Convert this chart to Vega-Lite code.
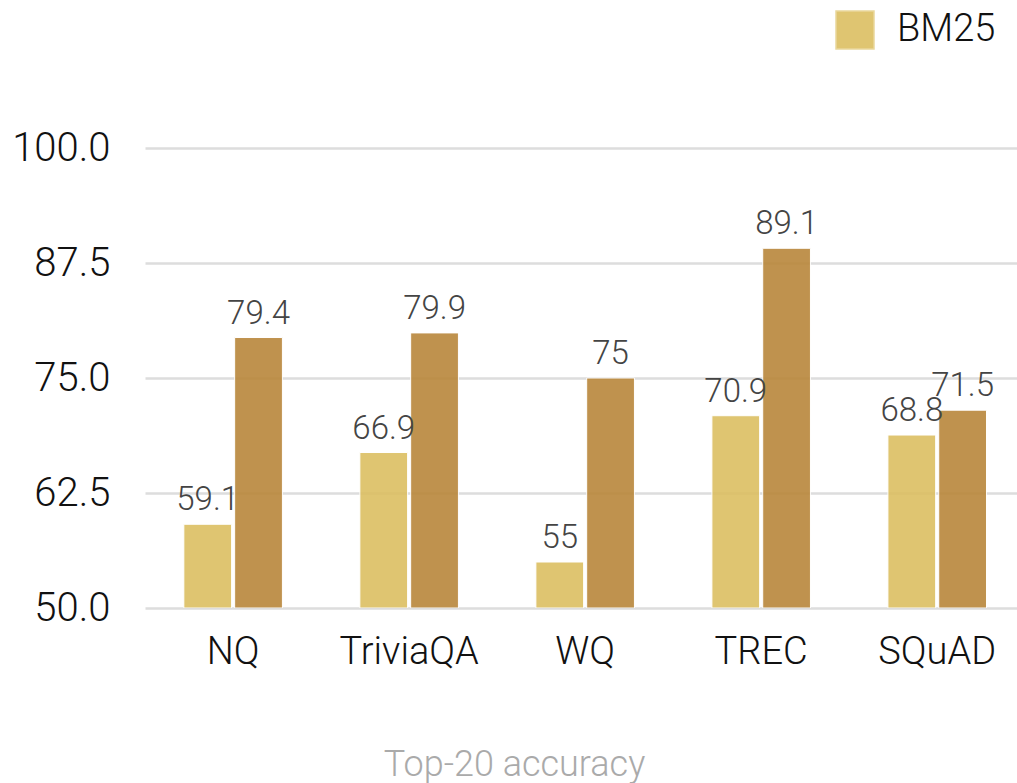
{
  "$schema": "https://vega.github.io/schema/vega-lite/v6.json",
  "width": 872,
  "height": 460,
  "autosize": {"type": "none"},
  "padding": {"left": 145, "top": 148, "right": 0, "bottom": 175},
  "background": "white",
  "config": {
    "font": "Roboto",
    "view": {"stroke": null}
  },
  "data": {
    "values": [
      {"dataset": "NQ", "method": "BM25", "accuracy": 59.1},
      {"dataset": "NQ", "method": "DPR", "accuracy": 79.4},
      {"dataset": "TriviaQA", "method": "BM25", "accuracy": 66.9},
      {"dataset": "TriviaQA", "method": "DPR", "accuracy": 79.9},
      {"dataset": "WQ", "method": "BM25", "accuracy": 55},
      {"dataset": "WQ", "method": "DPR", "accuracy": 75},
      {"dataset": "TREC", "method": "BM25", "accuracy": 70.9},
      {"dataset": "TREC", "method": "DPR", "accuracy": 89.1},
      {"dataset": "SQuAD", "method": "BM25", "accuracy": 68.8},
      {"dataset": "SQuAD", "method": "DPR", "accuracy": 71.5}
    ]
  },
  "encoding": {
    "x": {
      "field": "dataset",
      "type": "nominal",
      "sort": ["NQ", "TriviaQA", "WQ", "TREC", "SQuAD"],
      "scale": {"paddingInner": 0.44, "paddingOuter": 0.197, "align": 0.56},
      "axis": {
        "title": "Top-20 accuracy",
        "titleFont": "Roboto",
        "titleFontSize": 36,
        "titleFontWeight": 300,
        "titleColor": "#aaaaaa",
        "titleX": 369,
        "titleY": 167,
        "titleBaseline": "alphabetic",
        "titleAnchor": "middle",
        "labelAngle": 0,
        "labelFontSize": 38,
        "labelFontWeight": 300,
        "labelColor": "#111111",
        "labelPadding": 25,
        "ticks": false,
        "domain": false,
        "grid": false
      }
    },
    "xOffset": {
      "field": "method",
      "type": "nominal",
      "sort": ["BM25", "DPR"],
      "scale": {"paddingInner": 0.06, "paddingOuter": 0}
    },
    "y": {
      "field": "accuracy",
      "type": "quantitative",
      "scale": {"domain": [50, 100], "nice": false, "zero": false},
      "axis": {
        "title": null,
        "values": [50, 62.5, 75, 87.5, 100],
        "format": ".1f",
        "labelFontSize": 40,
        "labelFontWeight": 300,
        "labelColor": "#111111",
        "labelPadding": 35,
        "ticks": false,
        "domain": false,
        "grid": true,
        "gridColor": "#dddddd",
        "gridWidth": 2.5
      }
    }
  },
  "layer": [
    {
      "mark": {"type": "bar", "opacity": 0.9, "stroke": "white", "strokeWidth": 1, "clip": true},
      "encoding": {
        "y2": {"datum": 50},
        "color": {
          "field": "method",
          "type": "nominal",
          "scale": {"domain": ["BM25", "DPR"], "range": ["#dcbf62", "#b9873b"]},
          "legend": {
            "values": ["BM25"],
            "title": null,
            "orient": "none",
            "legendX": 690,
            "legendY": -138,
            "symbolType": "square",
            "symbolSize": 1444,
            "symbolOpacity": 0.9,
            "symbolStrokeColor": "#e8d491",
            "symbolStrokeWidth": 1.5,
            "labelFontSize": 38,
            "labelFontWeight": 300,
            "labelColor": "#111111",
            "labelOffset": 22,
            "padding": 0
          }
        }
      }
    },
    {
      "mark": {"type": "text", "baseline": "alphabetic", "dy": -14, "fontSize": 33, "fontWeight": 300, "color": "#444444"},
      "encoding": {
        "text": {"field": "accuracy", "type": "quantitative"}
      }
    }
  ]
}
